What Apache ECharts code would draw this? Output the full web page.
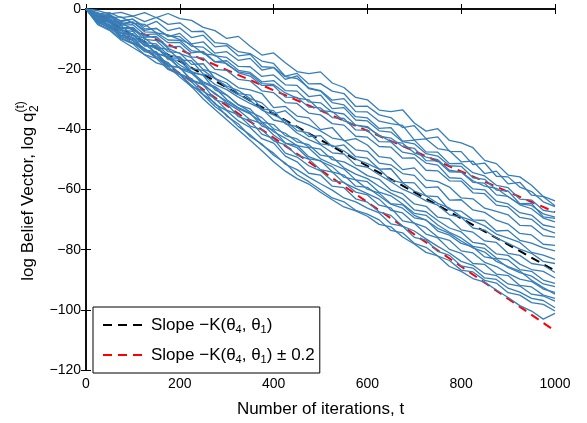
<!DOCTYPE html>
<html>
<head>
<meta charset="utf-8">
<script src="https://cdn.jsdelivr.net/npm/echarts@6/dist/echarts.min.js"></script>
<style>
html,body{margin:0;padding:0;background:#fff;}
#chart{width:587px;height:423px;}
</style>
</head>
<body>
<div id="chart"></div>
<script>
// ---- iterations (x values, every 25 iterations) ----
const iterations = [0,25,50,75,100,125,150,175,200,225,250,275,300,325,350,375,400,425,450,475,500,525,550,575,600,625,650,675,700,725,750,775,800,825,850,875,900,925,950,975,1000];

// ---- axis ticks ----
const xTicks = [0,200,400,600,800,1000];
const yTicks = [-120,-100,-80,-60,-40,-20,0];

// ---- reference slope lines: value reached at t = 1000 ----
const slopeEndBlack = -87;
const slopeEndRedHigh = -67.5;
const slopeEndRedLow = -107;

// ---- simulated belief trajectories (log q_2) ----
const run01 = [0,-0.5,-1.6,-1.1,-2.4,-1.2,-2.9,-1.5,-3.2,-3.8,-6.1,-7.2,-9.8,-9.1,-12.4,-15.3,-14.6,-17.9,-20.8,-21.5,-20.9,-24.6,-26.1,-29.4,-30.2,-33.6,-34.1,-33.5,-37.9,-40.6,-39.8,-43.7,-44.5,-46.1,-50.3,-51.4,-55.2,-55.8,-58.6,-62.3,-63.8];
const run02 = [0,-1.6,-1.2,-2.9,-2.4,-4.2,-2.8,-5.1,-4.6,-7.5,-7.4,-11.2,-11.6,-14.2,-14.8,-17.3,-18.1,-22.3,-21.4,-24.9,-24.8,-27.3,-28.1,-32.4,-32.3,-35.2,-36.1,-39.4,-38.8,-43.1,-42.5,-47.3,-47.4,-51.7,-51.2,-55.6,-55.8,-59.2,-60.7,-64.1,-65.7];
const run03 = [0,-2.1,-2.3,-3.9,-3.4,-5.8,-4.1,-7.2,-6.3,-9.5,-8.7,-12.6,-12.2,-15.6,-15.1,-19.2,-19.4,-22.5,-23.1,-26.2,-27.1,-30.3,-29.8,-34.1,-34.2,-37.3,-38.1,-38.7,-43.5,-43.2,-46.4,-47.1,-50.8,-50.6,-54.7,-53.9,-58.1,-57.6,-61.9,-62.4,-65.4];
const run04 = [0,-1.9,-2.1,-4.8,-4.3,-7.1,-6.4,-9.2,-8.1,-11.6,-10.9,-14.7,-14.2,-17.1,-16.4,-20.3,-19.5,-23.4,-22.2,-26.5,-27.3,-31.1,-31.9,-35.8,-36.2,-39.7,-39.4,-43.9,-43.6,-47.5,-47.6,-51.4,-51.3,-54.4,-55.5,-58.6,-59.4,-63.2,-63.5,-66.9,-67.6];
const run05 = [0,-2.3,-1.8,-4.2,-3.4,-6.6,-6.5,-8.9,-9.2,-12.4,-12.7,-15.6,-16.1,-19.1,-19.2,-22.4,-21.9,-25.2,-25.4,-29.1,-28.6,-33.1,-32.8,-36.9,-37.2,-40.5,-40.9,-44.1,-44.8,-48.1,-48.9,-52.1,-52.3,-56.1,-56.6,-60.2,-60.5,-64.7,-64.6,-69.1,-69.6];
const run06 = [0,-2.6,-3.1,-5.4,-5.2,-8.5,-8.3,-11.2,-11.1,-14.6,-14.1,-17.5,-17.2,-20.4,-21.1,-24.2,-23.8,-27.1,-27.3,-30.9,-31.2,-34.3,-34.9,-38.6,-39.1,-42.3,-42.9,-45.7,-46.3,-50.4,-50.5,-54.1,-54.2,-57.6,-57.9,-61.8,-62.3,-65.1,-66.4,-69.5,-70.8];
const run07 = [0,-2.8,-2.5,-5.1,-4.4,-7.6,-7.8,-10.3,-10.4,-13.8,-14.5,-17.6,-18.1,-21.2,-22.3,-25.4,-25.5,-29.3,-29.4,-32.6,-32.9,-36.1,-36.4,-40.2,-40.3,-44.1,-44.2,-47.6,-48.3,-51.2,-51.9,-56.1,-56.3,-59.8,-60.1,-63.9,-64.8,-67.7,-68.5,-71.8,-72.6];
const run08 = [0,-3.1,-3.6,-6.2,-6.1,-9.4,-9.1,-12.6,-12.4,-15.9,-16.3,-20.1,-20.4,-23.4,-23.9,-27.2,-27.8,-31.1,-31.4,-34.6,-35.2,-38.1,-38.6,-42.3,-42.6,-45.7,-45.9,-49.6,-49.5,-53.6,-53.8,-57.1,-57.2,-61.1,-61.4,-65.2,-65.8,-69.3,-69.9,-73.1,-74.5];
const run09 = [0,-2.4,-3.9,-4.4,-7.1,-8.9,-9.6,-13.1,-14.8,-16.2,-20.1,-21.3,-23.4,-26.2,-26.9,-28.1,-32.8,-32.4,-35.6,-36.2,-40.1,-39.4,-43.8,-43.1,-45.2,-49.1,-49.6,-53.4,-52.8,-56.9,-57.4,-59.2,-62.8,-63.1,-66.2,-67.3,-68.4,-71.9,-72.1,-75.3,-75.8];
const run10 = [0,-3.2,-3.8,-7.1,-7.4,-11.2,-11.6,-15.3,-15.9,-19.8,-20.4,-23.2,-25.6,-27.1,-29.8,-31.2,-34.9,-33.8,-37.2,-38.6,-40.5,-42.9,-43.6,-46.8,-47.3,-51.2,-51.8,-54.7,-55.3,-59.4,-59.1,-63.5,-63.4,-66.8,-67.6,-70.2,-71.5,-74.6,-75.1,-78.2,-78.6];
const run11 = [0,-2.9,-3.4,-6.4,-6.6,-10.1,-10.5,-14.2,-14.6,-18.4,-18.2,-23.1,-24.6,-28.1,-28.6,-33.2,-33.8,-38.2,-39.1,-42.4,-42.1,-45.8,-45.2,-49.1,-49.6,-53.2,-53.1,-57.6,-57.8,-62.1,-62.4,-66.8,-67.2,-70.1,-70.3,-73.8,-73.6,-76.9,-77.8,-79.4,-80.4];
const run12 = [0,-3.4,-4.1,-5.6,-8.8,-9.6,-12.8,-13.4,-16.9,-17.2,-21.6,-22.9,-26.1,-28.5,-30.4,-33.6,-35.2,-37.1,-40.4,-41.2,-44.8,-45.3,-47.2,-49.9,-51.4,-53.2,-56.9,-57.8,-60.5,-62.1,-64.6,-66.2,-69.1,-70.4,-72.1,-74.8,-76.2,-77.6,-80.9,-81.8,-83.2];
const run13 = [0,-3.6,-4.4,-7.9,-8.2,-12.1,-12.6,-16.8,-17.1,-21.2,-21.9,-25.1,-26.8,-29.3,-31.4,-33.2,-36.9,-37.8,-41.2,-43.4,-45.1,-47.8,-48.2,-51.9,-52.6,-55.1,-57.4,-59.9,-61.6,-63.8,-65.2,-68.4,-69.2,-72.8,-73.5,-76.1,-77.9,-79.8,-81.2,-83.9,-84.6];
const run14 = [0,-3.1,-4.6,-6.9,-8.8,-11.4,-13.2,-15.4,-18.6,-20.9,-24.2,-25.8,-28.6,-31.9,-33.2,-37.6,-38.4,-42.1,-43.2,-45.9,-46.6,-50.1,-50.8,-52.9,-55.4,-56.6,-60.2,-61.4,-64.8,-65.6,-69.2,-69.8,-73.4,-74.2,-77.1,-77.6,-81.2,-81.9,-84.6,-85.2,-87.6];
const run15 = [0,-3.8,-4.2,-8.1,-8.6,-12.3,-12.1,-16.4,-16.2,-20.8,-22.1,-26.9,-28.6,-31.8,-34.2,-36.1,-39.8,-41.3,-44.2,-45.1,-48.6,-49.2,-52.8,-54.9,-56.4,-58.9,-61.2,-63.1,-66.8,-67.4,-70.3,-72.8,-74.1,-77.6,-78.2,-81.4,-81.9,-84.8,-86.6,-87.2,-89.4];
const run16 = [0,-4.1,-5.2,-8.8,-9.4,-13.6,-14.2,-18.9,-19.4,-23.6,-24.9,-28.3,-30.6,-33.1,-34.9,-37.6,-40.8,-42.9,-45.4,-46.2,-49.8,-51.6,-53.2,-56.8,-57.4,-60.9,-62.1,-64.8,-67.9,-68.6,-71.8,-74.2,-76.1,-78.9,-79.6,-82.8,-83.4,-86.6,-87.2,-90.1,-91.2];
const run17 = [0,-3.3,-5.9,-6.4,-9.8,-10.6,-14.9,-15.8,-19.6,-20.8,-25.4,-27.9,-31.2,-33.6,-36.8,-38.1,-41.9,-44.6,-46.1,-49.8,-50.4,-54.1,-55.2,-58.9,-59.3,-62.1,-64.9,-66.2,-69.4,-70.1,-73.8,-75.2,-77.9,-79.1,-82.4,-83.1,-85.9,-87.6,-88.8,-91.4,-92.3];
const run18 = [0,-4.2,-5.1,-9.3,-10.2,-13.4,-15.9,-17.8,-21.6,-23.1,-27.4,-29.8,-33.6,-35.2,-38.9,-40.1,-43.8,-45.2,-48.6,-49.9,-53.4,-54.2,-57.8,-59.6,-61.4,-63.2,-66.9,-67.8,-71.2,-72.6,-75.8,-76.9,-80.4,-81.1,-84.2,-85.6,-87.9,-89.8,-90.6,-93.1,-94.2];
const run19 = [0,-4.6,-5.8,-9.6,-11.4,-13.9,-14.6,-18.8,-19.4,-23.9,-25.2,-30.1,-31.4,-35.8,-37.2,-41.6,-43.1,-47.9,-49.2,-52.1,-53.8,-57.1,-57.6,-60.9,-61.8,-65.2,-66.1,-70.4,-71.2,-74.8,-76.1,-79.9,-81.2,-84.6,-84.9,-88.1,-88.6,-91.9,-92.4,-95.1,-96.2];
const run20 = [0,-4.4,-6.2,-8.1,-10.6,-14.2,-15.1,-19.8,-21.6,-25.9,-27.1,-31.6,-33.8,-37.2,-39.4,-43.1,-44.6,-48.9,-50.8,-54.6,-55.2,-58.9,-59.4,-63.1,-64.2,-67.4,-68.6,-72.2,-73.8,-76.4,-78.9,-81.1,-83.9,-85.2,-87.9,-88.6,-91.4,-92.1,-94.8,-95.4,-97.1];
const run21 = [0,-4.9,-6.8,-9.9,-11.6,-15.2,-16.4,-20.1,-21.8,-25.3,-28.6,-32.4,-35.2,-39.1,-41.8,-45.2,-47.9,-51.6,-53.4,-55.9,-58.1,-60.2,-62.8,-64.1,-66.2,-67.8,-71.4,-72.2,-75.9,-76.8,-80.6,-81.9,-85.4,-86.1,-89.4,-89.9,-92.8,-94.1,-96.2,-96.9,-99.3];
const run22 = [0,-4.1,-6.4,-8.9,-11.2,-13.1,-16.4,-18.2,-21.6,-24.1,-28.4,-31.2,-35.6,-38.2,-42.4,-44.9,-48.6,-51.2,-55.1,-57.4,-60.1,-62.8,-64.1,-66.9,-68.2,-70.1,-73.6,-74.4,-77.9,-79.2,-82.1,-83.6,-86.8,-87.4,-90.2,-91.1,-94.3,-95.1,-97.6,-98.2,-100.4];
const run23 = [0,-5.2,-7.1,-10.4,-12.8,-15.2,-17.9,-19.1,-22.6,-25.8,-29.9,-33.4,-36.8,-40.2,-43.6,-47.1,-50.8,-53.9,-56.4,-58.2,-60.9,-63.4,-65.8,-67.1,-68.9,-71.6,-72.4,-75.8,-78.1,-80.9,-82.1,-85.6,-87.2,-89.6,-90.8,-93.4,-95.9,-98.6,-100.4,-103.1,-101.2];
const run24 = [0,-1.2,-2.9,-2.6,-4.8,-5.1,-7.9,-8.6,-10.2,-11.8,-14.9,-15.3,-18.4,-20.9,-21.6,-24.8,-25.1,-27.9,-29.6,-30.2,-33.8,-34.1,-37.2,-38.6,-39.4,-41.9,-44.1,-44.6,-47.8,-49.2,-50.1,-53.6,-54.2,-57.1,-58.9,-59.6,-62.4,-64.8,-65.3,-68.1,-69.2];
const run25 = [0,-3.6,-5.4,-7.2,-9.9,-11.8,-14.6,-16.1,-19.8,-21.4,-24.6,-26.2,-30.1,-32.8,-34.6,-38.9,-40.2,-44.6,-45.3,-49.1,-50.6,-52.4,-55.9,-56.8,-59.9,-61.2,-64.7,-65.1,-68.6,-70.2,-72.9,-74.6,-77.1,-79.4,-80.8,-83.9,-85.6,-87.1,-90.2,-92.6,-94.8];
const runs = [run01,run02,run03,run04,run05,run06,run07,run08,run09,run10,run11,run12,run13,run14,run15,run16,run17,run18,run19,run20,run21,run22,run23,run24,run25];

// ---- text ----
const legendBlack = 'Slope \u2212K(\u03b8{s|4}, \u03b8{s|1})';
const legendRed = 'Slope \u2212K(\u03b8{s|4}, \u03b8{s|1}) \u00b1 0.2';
const xTitle = 'Number of iterations, t';
const yTitleMain = 'log Belief Vector, log q';
const yTitleSub = '2';
const yTitleSup = '(t)';

const FONT = '"Liberation Sans", Arial, Helvetica, sans-serif';
const BLUE = '#377eb8';

const chart = echarts.init(document.getElementById('chart'), null, {renderer: 'canvas'});

const xMin = xTicks[0], xMax = xTicks[xTicks.length - 1];
const yMin = yTicks[0], yMax = yTicks[yTicks.length - 1];

const dashStyle = [9, 6];
const series = [
  {name: 'black', type: 'line', data: [[xMin, 0], [xMax, slopeEndBlack]], symbol: 'none', z: 1,
   lineStyle: {color: '#000', width: 2, type: dashStyle}, itemStyle: {color: '#000'}, silent: true, animation: false},
  {name: 'red', type: 'line', data: [[xMin, 0], [xMax, slopeEndRedHigh]], symbol: 'none', z: 1,
   lineStyle: {color: '#ff0000', width: 2, type: dashStyle}, itemStyle: {color: '#ff0000'}, silent: true, animation: false},
  {name: 'red', type: 'line', data: [[xMin, 0], [xMax, slopeEndRedLow]], symbol: 'none', z: 1,
   lineStyle: {color: '#ff0000', width: 2, type: dashStyle}, itemStyle: {color: '#ff0000'}, silent: true, animation: false}
];
runs.forEach((r, i) => {
  series.push({
    name: 'run' + i, type: 'line', symbol: 'none', z: 2, animation: false, silent: true,
    data: r.map((v, k) => [iterations[k], v]),
    lineStyle: {color: BLUE, width: 1.3}, itemStyle: {color: BLUE}
  });
});

// y title measurement
const mctx = document.createElement('canvas').getContext('2d');
mctx.font = '17px ' + FONT;
const mainW = mctx.measureText(yTitleMain).width;
mctx.font = '12px ' + FONT;
const supW = mctx.measureText(yTitleSup).width;
const totalW = mainW + supW;
const startX = -totalW / 2;

const axisCommon = {
  axisLine: {show: true, lineStyle: {color: '#000', width: 1.5}},
  axisTick: {show: true, inside: true, length: 5, lineStyle: {color: '#000', width: 1}},
  splitLine: {show: false}
};

const option = {
  animation: false,
  backgroundColor: '#fff',
  grid: {left: 86, right: 32, top: 9, bottom: 45, containLabel: false},
  legend: {
    data: ['black', 'red'],
    orient: 'vertical',
    left: 93, top: 307,
    padding: [8, 5, 8, 9],
    itemWidth: 43, itemHeight: 14,
    itemGap: 10,
    backgroundColor: '#fff',
    borderColor: '#000', borderWidth: 1, borderRadius: 0,
    selectedMode: false,
    itemStyle: {opacity: 0},
    formatter: function (name) { return name === 'black' ? legendBlack : legendRed; },
    textStyle: {
      fontFamily: FONT, fontSize: 17, color: '#000', lineHeight: 20,
      rich: {s: {fontFamily: FONT, fontSize: 11, color: '#000', padding: [9, 0, 0, 0]}}
    }
  },
  xAxis: [
    Object.assign({}, axisCommon, {
      type: 'value', position: 'bottom', min: xMin, max: xMax, interval: 200,
      name: xTitle, nameLocation: 'middle', nameGap: 31,
      nameTextStyle: {fontFamily: FONT, fontSize: 17, color: '#000'},
      axisLabel: {show: true, fontFamily: FONT, fontSize: 14, color: '#000', margin: 7,
        formatter: v => String(v)}
    }),
    Object.assign({}, axisCommon, {
      type: 'value', position: 'top', min: xMin, max: xMax, interval: 200,
      axisLabel: {show: false}
    })
  ],
  yAxis: [
    Object.assign({}, axisCommon, {
      type: 'value', position: 'left', min: yMin, max: yMax, interval: 20,
      axisLabel: {show: true, fontFamily: FONT, fontSize: 14, color: '#000', margin: 5,
        formatter: v => String(v).replace('-', '\u2212')}
    }),
    Object.assign({}, axisCommon, {
      type: 'value', position: 'right', min: yMin, max: yMax, interval: 20,
      axisLabel: {show: false}
    })
  ],
  graphic: [{
    type: 'group', x: 28, y: 191, rotation: Math.PI / 2,
    children: [
      {type: 'text', x: startX, y: 0, style: {text: yTitleMain, font: '17px ' + FONT, fill: '#000', align: 'left', verticalAlign: 'middle'}},
      {type: 'text', x: startX + mainW + 0.5, y: 7, style: {text: yTitleSub, font: '12px ' + FONT, fill: '#000', align: 'left', verticalAlign: 'middle'}},
      {type: 'text', x: startX + mainW, y: -7, style: {text: yTitleSup, font: '12px ' + FONT, fill: '#000', align: 'left', verticalAlign: 'middle'}}
    ]
  }],
  series: series
};

chart.setOption(option);
</script>
</body>
</html>
